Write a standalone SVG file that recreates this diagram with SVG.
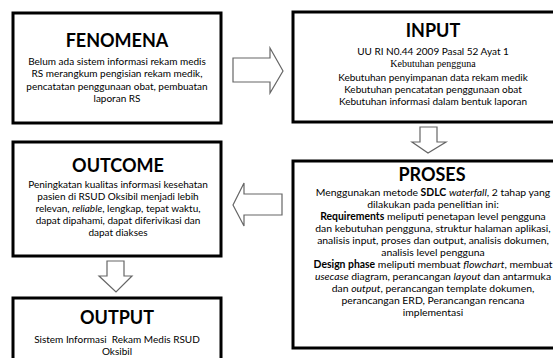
<svg xmlns="http://www.w3.org/2000/svg" width="553" height="358" viewBox="0 0 553 358">
<style>
.box{fill:#fff;stroke:#000;stroke-width:3}
.arr{fill:#fff;stroke:#666;stroke-width:1.2;stroke-linejoin:miter}
.t{font-family:Lato,"Open Sans",sans-serif;font-size:18px;font-weight:bold;text-anchor:middle;fill:#000}
.b{font-family:Lato,"Open Sans",sans-serif;font-size:10px;text-anchor:middle;fill:#000}
.p{font-size:10.4px}
.s{font-family:"Liberation Serif",serif;font-size:10px;text-anchor:middle;fill:#000}
.bo{font-weight:bold}
.it{font-style:italic}
</style>
<rect width="553" height="358" fill="#fff"/>
<g id="connectors">
<polygon class="arr" points="233,58 270,58 270,48 283,71 270,93 270,82 233,82"/>
<polygon class="arr" points="420,127 437,127 437,142 446,142 428,153 412,142 420,142"/>
<polygon class="arr" points="282,194 244,194 244,183 233,205 244,226 244,215 282,215"/>
<polygon class="arr" points="107,261 124,261 124,276 132,276 116,292 99,276 107,276"/>
</g>
<g id="fenomena">
<rect class="box" x="13" y="13" width="208" height="110"/>
<text class="t" x="117" y="47">FENOMENA</text>
<text class="b" x="117" y="65">Belum ada sistem informasi rekam medis</text>
<text class="b" x="117" y="77">RS merangkum pengisian rekam medik,</text>
<text class="b" x="117" y="89.5">pencatatan penggunaan obat, pembuatan</text>
<text class="b" x="117" y="102">laporan RS</text>
</g>
<g id="input">
<rect class="box" x="293" y="12" width="300" height="110"/>
<text class="t" x="433" y="37">INPUT</text>
<text class="b" x="433" y="55">UU RI N0.44 2009 Pasal 52 Ayat 1</text>
<text class="s" x="433" y="67">Kebutuhan pengguna</text>
<text class="b" x="433" y="81">Kebutuhan penyimpanan data rekam medik</text>
<text class="b" x="433" y="93">Kebutuhan pencatatan penggunaan obat</text>
<text class="b" x="433" y="105">Kebutuhan informasi dalam bentuk laporan</text>
</g>
<g id="outcome">
<rect class="box" x="13" y="142" width="208" height="114"/>
<text class="t" x="118" y="172">OUTCOME</text>
<text class="b" x="118" y="188">Peningkatan kualitas informasi kesehatan</text>
<text class="b" x="118" y="200">pasien di RSUD Oksibil menjadi lebih</text>
<text class="b" x="118" y="212">relevan, <tspan class="it">reliable</tspan>, lengkap, tepat waktu,</text>
<text class="b" x="118" y="224">dapat dipahami, dapat diferivikasi dan</text>
<text class="b" x="118" y="236">dapat diakses</text>
</g>
<g id="proses">
<rect class="box" x="293" y="161" width="300" height="187"/>
<text class="t" x="432" y="181">PROSES</text>
<text class="b p" x="433" y="196">Menggunakan metode <tspan class="bo">SDLC</tspan> <tspan class="it">waterfall</tspan>, 2 tahap yang</text>
<text class="b p" x="433" y="208">dilakukan pada penelitian ini:</text>
<text class="b p" x="433" y="220"><tspan class="bo">Requirements</tspan> meliputi penetapan level pengguna</text>
<text class="b p" x="433" y="232">dan kebutuhan pengguna, struktur halaman aplikasi,</text>
<text class="b p" x="433" y="244">analisis input, proses dan output, analisis dokumen,</text>
<text class="b p" x="433" y="256">analisis level pengguna</text>
<text class="b p" x="433" y="268"><tspan class="bo">Design phase</tspan> meliputi membuat <tspan class="it">flowchart</tspan>, membuat</text>
<text class="b p" x="433" y="280"><tspan class="it">usecase</tspan> diagram, perancangan <tspan class="it">layout</tspan> dan antarmuka</text>
<text class="b p" x="433" y="292">dan <tspan class="it">output</tspan>, perancangan template dokumen,</text>
<text class="b p" x="433" y="304">perancangan ERD, Perancangan rencana</text>
<text class="b p" x="433" y="316">implementasi</text>
</g>
<g id="output">
<rect class="box" x="13" y="298" width="208" height="80"/>
<text class="t" x="117" y="324">OUTPUT</text>
<text class="b" x="117" y="343" xml:space="preserve">Sistem Informasi  Rekam Medis RSUD</text>
<text class="b" x="117" y="355">Oksibil</text>
</g>
</svg>
